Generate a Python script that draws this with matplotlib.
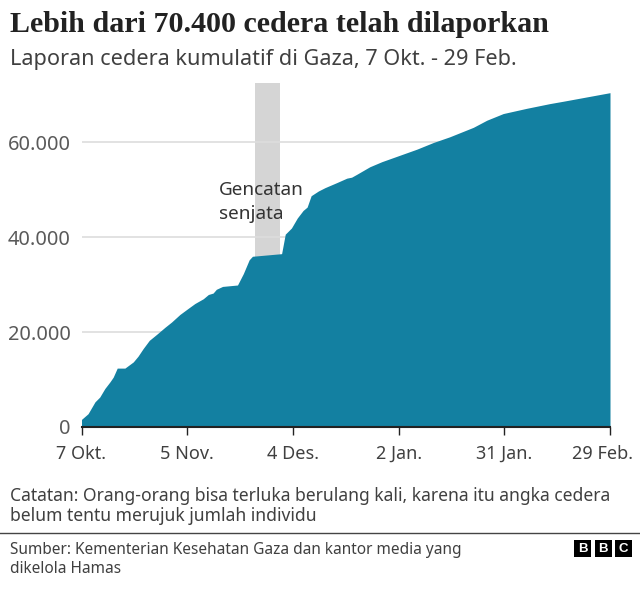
import matplotlib
matplotlib.use("Agg")
import matplotlib.pyplot as plt
from matplotlib.patches import Rectangle

# days since 7 Oct and cumulative injuries
days = [0, 1.8, 3.7, 5, 6.4, 7.8, 8.7, 9.8, 11.9, 14.2, 15.5, 16.9, 18.6, 20.6, 22.9,
        24.7, 27, 29.3, 31.1, 33.4, 34.8, 36.1, 37, 38.7, 42.8, 44.4, 46, 46.9, 54.9,
        55.9, 57.6, 59.2, 60.8, 61.9, 63, 65, 66.8, 70, 72.8, 74.1, 75.5, 79.1, 82.4,
        92, 96.5, 101, 107.5, 111.2, 115.7, 122.1, 128.5, 132.2, 145]
injuries = [1600, 2800, 5300, 6300, 8100, 9500, 10500, 12400, 12400, 13700, 14900, 16500,
            18250, 19500, 21000, 22100, 23700, 25000, 26000, 27000, 27900, 28200, 29000,
            29600, 29900, 32300, 35200, 35950, 36500, 40600, 41900, 44000, 45600, 46300,
            48700, 49700, 50400, 51450, 52400, 52600, 53200, 54800, 55870, 58500, 59900,
            61100, 63100, 64600, 66000, 67100, 68100, 68600, 70400]
x_ticks = [0, 29, 58, 87, 116, 145]
x_labels = ["7 Okt.", "5 Nov.", "4 Des.", "2 Jan.", "31 Jan.", "29 Feb."]
y_ticks = [0, 20000, 40000, 60000]
y_labels = ["0", "20.000", "40.000", "60.000"]
ceasefire = (47.6, 54.4)

W, H = 640, 594
SANS = "Noto Sans"
fig = plt.figure(figsize=(W / 100, H / 100), dpi=100)
ax = fig.add_axes([81.5 / W, 1 - 427 / H, (610 - 81.5) / W, (427 - 82.7) / H])


def fig_text(x, y, s, **kw):
    # x, y in image pixels, measured from top left
    return fig.text(x / W, 1 - y / H, s, **kw)


ax.set_xlim(0, 145)
ax.set_ylim(0, 72500)
ax.axvspan(*ceasefire, color="#d5d5d5", lw=0, zorder=1)
ax.fill_between(days, injuries, 0, color="#1380a1", lw=0, zorder=3)
for t in y_ticks[1:]:
    ax.axhline(t, color="#dddddd", lw=1.2, zorder=2)

for s in ["top", "left", "right"]:
    ax.spines[s].set_visible(False)
ax.spines["bottom"].set_linewidth(1.5)
ax.spines["bottom"].set_color("#222222")
ax.spines["bottom"].set_zorder(5)

ax.set_yticks(y_ticks, y_labels)
ax.tick_params(axis="y", length=0, pad=8, labelsize=14.4, labelcolor="#5a5a5a")
ax.set_xticks(x_ticks, x_labels)
ax.tick_params(axis="x", length=6, width=1, color="#222222", pad=7, labelsize=13,
               labelcolor="#404040")
for lab in ax.get_xticklabels() + ax.get_yticklabels():
    lab.set_family(SANS)
# last label is pulled inside the canvas
last = ax.get_xticklabels()[-1]
last.set_ha("right")
last.set_transform(last.get_transform() + matplotlib.transforms.ScaledTranslation(23 / 100, 0, fig.dpi_scale_trans))

ax.text(37.7, 47400, "Gencatan\nsenjata", fontsize=13.6, color="#333333", family=SANS,
        linespacing=1.4, va="center", zorder=6)

fig_text(10, 25, "Lebih dari 70.400 cedera telah dilaporkan", family="Liberation Serif",
         weight="bold", fontsize=21.6, color="#222222", va="center")
fig_text(10, 59, "Laporan cedera kumulatif di Gaza, 7 Okt. - 29 Feb.", family=SANS,
         fontsize=15.6, color="#404040", va="center")
fig_text(10, 496, "Catatan: Orang-orang bisa terluka berulang kali, karena itu angka cedera",
         family=SANS, fontsize=12.6, color="#404040", va="center")
fig_text(10, 516, "belum tentu merujuk jumlah individu", family=SANS, fontsize=12.6,
         color="#404040", va="center")
fig.add_artist(plt.Line2D([0, 1], [1 - 533 / H] * 2, color="#444444", lw=1))
fig_text(10, 550, "Sumber: Kementerian Kesehatan Gaza dan kantor media yang", family=SANS,
         fontsize=11.1, color="#404040", va="center")
fig_text(10, 569, "dikelola Hamas", family=SANS, fontsize=11.1, color="#404040", va="center")

# BBC blocks
for i, letter in enumerate("BBC"):
    x0 = 574 + i * 20.5
    fig.add_artist(Rectangle((x0 / W, 1 - 557 / H), 17 / W, 17 / H, color="black", lw=0,
                             transform=fig.transFigure))
    fig_text(x0 + 8.5, 548.7, letter, family="Liberation Sans", weight="bold", fontsize=9.5,
             color="white", ha="center", va="center")

fig.savefig("out.png", dpi=100)
